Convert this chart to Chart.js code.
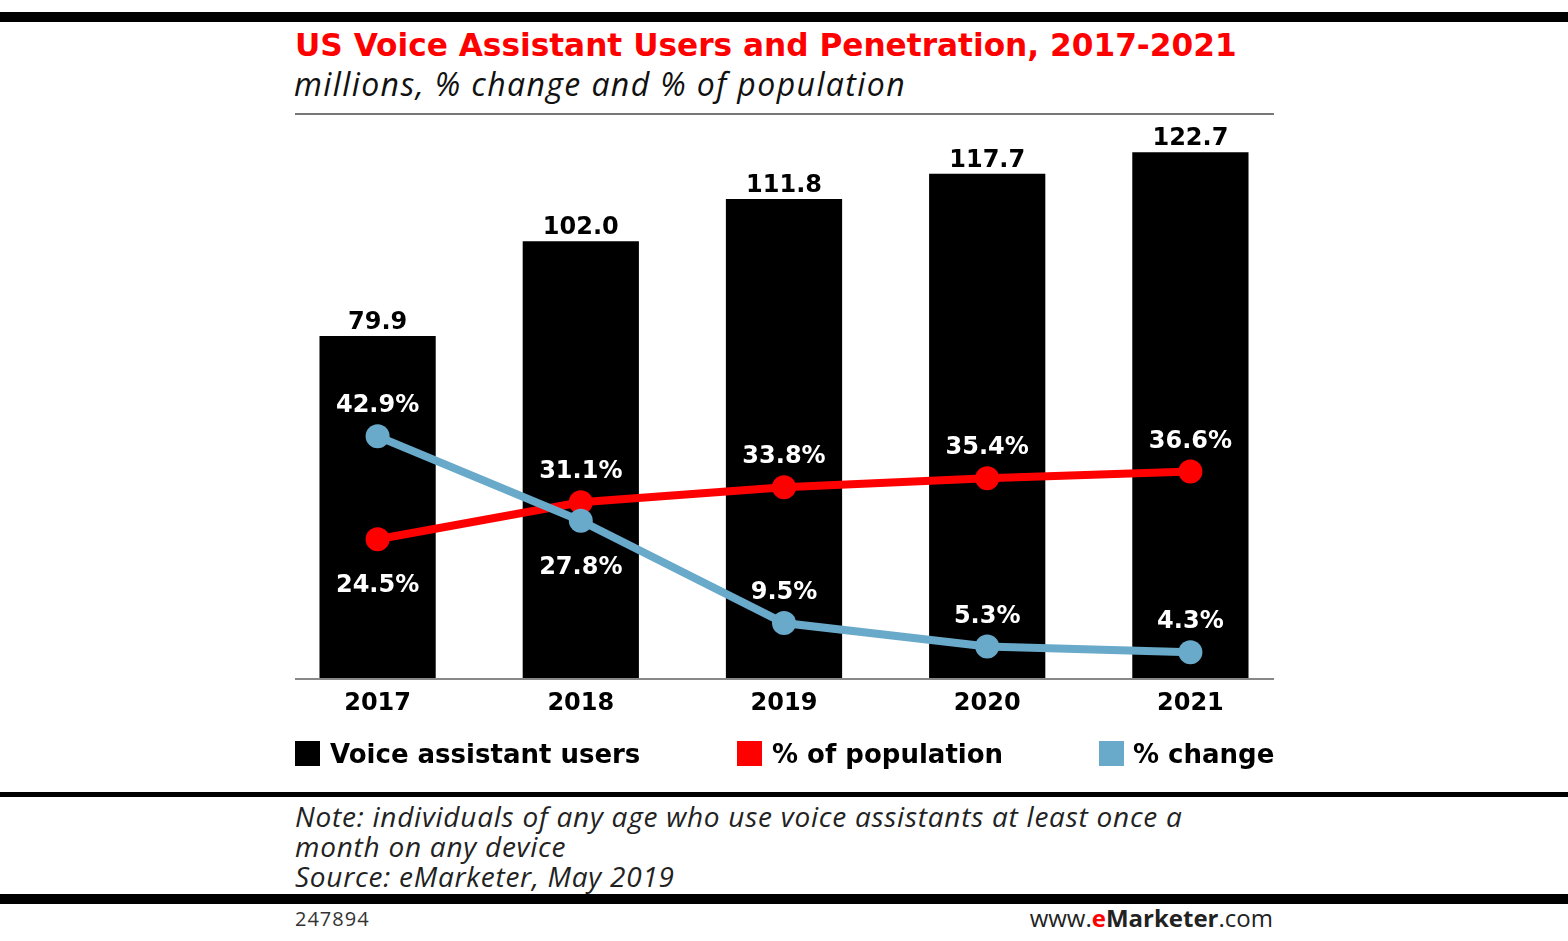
<!DOCTYPE html>
<html><head><meta charset="utf-8">
<script src="https://cdn.jsdelivr.net/npm/chart.js@4.4.1/dist/chart.umd.min.js"></script>
<style>
html,body{margin:0;padding:0;background:#fff;}
body{width:1568px;height:941px;position:relative;overflow:hidden;}
.abs{position:absolute;white-space:nowrap;}
.leg{font:bold 26px 'DejaVu Sans';line-height:26px;color:#000;top:741px;}
.sq{width:25px;height:25px;top:741px;}
.note{font:italic 28px 'Open Sans';line-height:30px;color:#222;left:295px;top:801px;letter-spacing:0.75px;}
</style></head><body>
<div class="abs" style="left:0;top:12px;width:1568px;height:10px;background:#000"></div>
<div class="abs" style="left:295px;top:30px;font:bold 31.2px 'DejaVu Sans';line-height:31px;color:#ff0000">US Voice Assistant Users and Penetration, 2017-2021</div>
<div class="abs" style="left:294px;top:68px;font:italic 32px 'Open Sans';line-height:31px;color:#111;letter-spacing:1.4px">millions, % change and % of population</div>
<div class="abs" style="left:295px;top:113px;width:979px;height:2px;background:#777"></div>

<canvas id="c" width="1016" height="640" style="position:absolute;left:276px;top:100px;"></canvas>

<div class="abs sq" style="left:295px;background:#000"></div>
<div class="abs leg" style="left:330px">Voice assistant users</div>
<div class="abs sq" style="left:737px;background:#ff0000"></div>
<div class="abs leg" style="left:772px">% of population</div>
<div class="abs sq" style="left:1099px;background:#69a9ca"></div>
<div class="abs leg" style="left:1133px">% change</div>

<div class="abs" style="left:0;top:792px;width:1568px;height:5px;background:#000"></div>
<div class="abs note">Note: individuals of any age who use voice assistants at least once a<br>month on any device<br>Source: eMarketer, May 2019</div>
<div class="abs" style="left:0;top:894px;width:1568px;height:10px;background:#000"></div>
<div class="abs" style="left:295px;top:909px;font:20px 'Open Sans';line-height:20px;color:#333;letter-spacing:1px">247894</div>
<div class="abs" style="right:295px;top:906px;font:24px 'Open Sans';line-height:24px;color:#222">www.<b style="color:#ff0000">e</b><b>Marketer</b>.com</div>

<script>
const categories = ['2017', '2018', '2019', '2020', '2021'];
const voiceUsers = [79.9, 102.0, 111.8, 117.7, 122.7];
const pctPopulation = [24.5, 31.1, 33.8, 35.4, 36.6];
const pctChange = [42.9, 27.8, 9.5, 5.3, 4.3];

const RED = '#ff0000';
const BLUE = '#69a9ca';

const baselinePlugin = {
  id: 'baseline',
  afterDatasetsDraw(chart) {
    const ctx = chart.ctx, a = chart.chartArea;
    const y = chart.scales.y.getPixelForValue(0);
    ctx.save();
    ctx.strokeStyle = '#888';
    ctx.lineWidth = 2;
    ctx.beginPath();
    ctx.moveTo(a.left + 19, y);
    ctx.lineTo(a.right - 18, y);
    ctx.stroke();
    ctx.restore();
  }
};

const labelPlugin = {
  id: 'valueLabels',
  afterDraw(chart, args, opts) {
    const ctx = chart.ctx;
    ctx.save();
    ctx.font = 'bold 24px "DejaVu Sans"';
    ctx.textAlign = 'center';
    ctx.textBaseline = 'alphabetic';
    chart.data.datasets.forEach((ds, i) => {
      const meta = chart.getDatasetMeta(i);
      meta.data.forEach((el, j) => {
        const v = ds.data[j];
        if (ds.type === 'bar') {
          ctx.fillStyle = '#000';
          ctx.fillText(v.toFixed(1), el.x, el.y - 7);
        } else {
          ctx.fillStyle = '#fff';
          const below = opts.below[i] && opts.below[i][j];
          ctx.fillText(v.toFixed(1) + '%', el.x, below ? el.y + 53 : el.y - 24);
        }
      });
    });
    ctx.restore();
  }
};

new Chart(document.getElementById('c'), {
  data: {
    labels: categories,
    datasets: [
      { type: 'bar', label: 'Voice assistant users', data: voiceUsers, backgroundColor: '#000',
        yAxisID: 'y', order: 3, categoryPercentage: 1, barPercentage: 0.572 },
      { type: 'line', label: '% of population', data: pctPopulation, borderColor: RED, backgroundColor: RED,
        borderWidth: 8, pointRadius: 12, pointBorderWidth: 0, pointBackgroundColor: RED, yAxisID: 'y2', order: 2, tension: 0 },
      { type: 'line', label: '% change', data: pctChange, borderColor: BLUE, backgroundColor: BLUE,
        borderWidth: 8, pointRadius: 12, pointBorderWidth: 0, pointBackgroundColor: BLUE, yAxisID: 'y2', order: 1, tension: 0 }
    ]
  },
  options: {
    responsive: false,
    animation: false,
    devicePixelRatio: 1,
    layout: { autoPadding: false, padding: { top: 21, bottom: 11, left: 0, right: 0 } },
    plugins: {
      legend: { display: false },
      tooltip: { enabled: false },
      valueLabels: { below: { 1: [true, false, false, false, false], 2: [false, true, false, false, false] } }
    },
    scales: {
      x: {
        offset: true,
        grid: { display: false, drawTicks: false },
        border: { display: false },
        ticks: { color: '#000', padding: 10, font: { family: 'DejaVu Sans', weight: 'bold', size: 24 } },
        afterFit(s) { s.height = 50; }
      },
      y: { display: false, min: 0, max: 130 },
      y2: { display: false, min: -0.5, max: 99.3 }
    }
  },
  plugins: [baselinePlugin, labelPlugin]
});
</script>
</body></html>
